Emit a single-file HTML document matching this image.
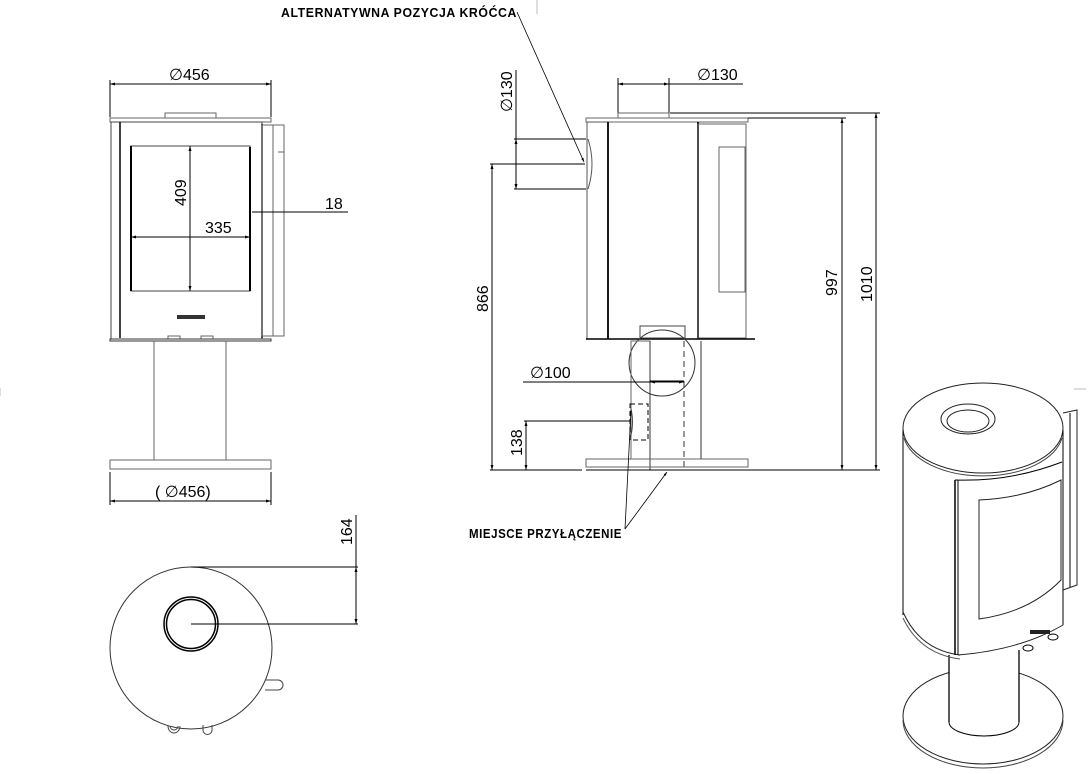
<!DOCTYPE html>
<html><head><meta charset="utf-8"><style>
html,body{margin:0;padding:0;background:#fff;}
svg{display:block;}
text{font-family:"Liberation Sans",sans-serif;fill:#000;}
.b{font-weight:bold;font-size:12.5px;letter-spacing:0.6px;}
.d{font-size:16px;}
</style></head><body>
<svg width="1088" height="774" viewBox="0 0 1088 774" xmlns="http://www.w3.org/2000/svg">
<defs>
<marker id="a" viewBox="0 0 10 10" refX="10" refY="5" markerWidth="7" markerHeight="5" orient="auto-start-reverse"><path d="M0,2 L10,5 L0,8z" fill="#000"/></marker>
</defs>
<g fill="none" stroke="#000" stroke-width="1">
<line x1="537" y1="0" x2="537" y2="14" stroke="#bbb"/>
<line x1="0" y1="388" x2="0" y2="396" stroke="#bbb"/>
<line x1="1074" y1="389" x2="1086" y2="389" stroke="#bbb"/>

<!-- FRONT VIEW -->
<line x1="110" y1="80" x2="110" y2="117"/><line x1="271" y1="80" x2="271" y2="117"/>
<line x1="110" y1="84" x2="271" y2="84" marker-start="url(#a)" marker-end="url(#a)"/>
<rect x="165" y="113" width="51" height="5" stroke="#666"/>
<rect x="110" y="118" width="161" height="4" stroke="#666"/>
<rect x="111" y="122" width="151" height="217" stroke="#444"/>
<line x1="120" y1="122" x2="120" y2="338" stroke-width="1.5"/>
<line x1="262" y1="124" x2="262" y2="338" stroke-width="1.5"/>
<rect x="262" y="125" width="22" height="211" stroke="#666"/>
<line x1="273" y1="125" x2="273" y2="336" stroke="#666"/>
<line x1="278" y1="152" x2="284" y2="152" stroke="#666"/>
<rect x="131" y="146" width="119" height="145" stroke="#444"/>
<line x1="131" y1="146" x2="131" y2="291" stroke-width="2"/>
<line x1="250" y1="147" x2="250" y2="291" stroke-width="2"/>
<line x1="190" y1="146" x2="190" y2="291" marker-start="url(#a)" marker-end="url(#a)"/>
<line x1="131" y1="237" x2="250" y2="237" marker-start="url(#a)" marker-end="url(#a)"/>
<line x1="252" y1="212" x2="348" y2="212"/>
<rect x="177" y="315" width="28" height="4" fill="#333" stroke="none"/>
<rect x="168" y="336" width="12" height="3" stroke="#666"/><rect x="201" y="336" width="12" height="3" stroke="#666"/>
<rect x="110" y="339" width="161" height="2" stroke="#333"/>
<line x1="154" y1="341" x2="154" y2="460" stroke="#666"/><line x1="226" y1="341" x2="226" y2="460" stroke="#666"/>
<rect x="110" y="460" width="161" height="9" stroke="#666"/>
<line x1="110" y1="472" x2="110" y2="505"/><line x1="271" y1="472" x2="271" y2="505"/>
<line x1="110" y1="501" x2="271" y2="501" marker-start="url(#a)" marker-end="url(#a)"/>

<!-- TOP VIEW -->
<circle cx="191" cy="648" r="81" stroke="#333"/>
<circle cx="191" cy="624" r="27" stroke-width="1.5"/>
<circle cx="191" cy="624" r="24.5" stroke-width="1.5"/>
<line x1="191" y1="624" x2="358" y2="624"/>
<line x1="191" y1="567" x2="358" y2="567"/>
<line x1="356" y1="515" x2="356" y2="567" />
<line x1="356" y1="567" x2="356" y2="624" marker-start="url(#a)" marker-end="url(#a)"/>
<path d="M265,680 h13 a5,5 0 0 1 0,10 h-13" stroke="#444"/>
<path d="M170,726 a4,4 0 0 0 8,0" stroke="#444"/><path d="M168,726 a6,7 0 0 0 12,0" stroke="#444"/>
<path d="M203,725 v5 a4,4 0 0 0 9,0 v-5" stroke="#444"/>

<!-- SIDE VIEW -->
<line x1="618" y1="78" x2="618" y2="113"/><line x1="669" y1="78" x2="669" y2="113"/>
<line x1="618" y1="84" x2="669" y2="84" marker-start="url(#a)" marker-end="url(#a)"/>
<line x1="669" y1="84" x2="743" y2="84"/>
<rect x="618" y="113" width="51" height="5" stroke="#666"/>
<rect x="586" y="118" width="162" height="4" stroke="#666"/>
<rect x="587" y="122" width="21" height="217" stroke="#555"/>
<line x1="608" y1="122" x2="608" y2="339" stroke-width="1.8"/>
<line x1="698" y1="122" x2="698" y2="339" stroke-width="1.8"/>
<rect x="698" y="124" width="48" height="214" stroke="#666"/>
<rect x="719" y="147" width="26" height="145" stroke="#666"/>
<path d="M588,139 q8,25 0,50" stroke="#555"/>
<line x1="586" y1="339" x2="755" y2="339" stroke-width="1.5"/>
<circle cx="662" cy="363" r="33" stroke="#333"/>
<rect x="640" y="326" width="45" height="12" stroke="#444"/>
<rect x="631" y="341" width="19" height="118" stroke="#666"/>
<line x1="650" y1="341" x2="650" y2="470" stroke="#333"/>
<line x1="684" y1="341" x2="684" y2="470" stroke="#333" stroke-dasharray="6,4"/>
<line x1="701" y1="341" x2="701" y2="459" stroke="#333"/>
<line x1="650" y1="381" x2="684" y2="381"/>
<rect x="630" y="404" width="18" height="36" stroke-dasharray="5,3"/>
<path d="M630,405 q5,17 0,34" stroke="#444"/>
<rect x="586" y="459" width="162" height="8" stroke="#666"/>
<line x1="490" y1="470" x2="582" y2="470"/><line x1="586" y1="470" x2="880" y2="470"/>
<line x1="670" y1="113" x2="880" y2="113"/>
<line x1="748" y1="118" x2="846" y2="118"/>
<line x1="842" y1="118" x2="842" y2="470" marker-start="url(#a)" marker-end="url(#a)"/>
<line x1="876" y1="113" x2="876" y2="470" marker-start="url(#a)" marker-end="url(#a)"/>
<line x1="490" y1="164" x2="585" y2="164"/>
<line x1="492" y1="164" x2="492" y2="470" marker-start="url(#a)" marker-end="url(#a)"/>
<line x1="514" y1="139" x2="586" y2="139"/><line x1="514" y1="189" x2="586" y2="189"/>
<line x1="516" y1="70" x2="516" y2="139"/>
<line x1="516" y1="139" x2="516" y2="189" marker-start="url(#a)" marker-end="url(#a)"/>
<line x1="523" y1="382" x2="684" y2="382"/>
<line x1="650" y1="382" x2="684" y2="382" marker-start="url(#a)" marker-end="url(#a)"/>
<line x1="524" y1="421" x2="630" y2="421"/>
<line x1="526" y1="421" x2="526" y2="470" marker-start="url(#a)" marker-end="url(#a)"/>
<line x1="517" y1="12" x2="584" y2="162" stroke-width="0.8" marker-end="url(#a)"/>
<line x1="625" y1="529" x2="667" y2="472" stroke-width="0.8" marker-end="url(#a)"/>
<line x1="625" y1="529" x2="631" y2="410" stroke-width="0.8"/>

<!-- ISO VIEW -->
<ellipse cx="983" cy="716" rx="80" ry="48" stroke="#222"/>
<path d="M903,720 A80,48 0 0 0 1063,720" stroke="#444"/>
<rect x="949" y="650" width="70" height="72" fill="#fff" stroke="none"/>
<line x1="949" y1="655" x2="949" y2="722" stroke-width="1.3"/>
<line x1="1019" y1="650" x2="1019" y2="722" stroke-width="1.3"/>
<path d="M949,722 A35,14 0 0 0 1019,722" />
<ellipse cx="983" cy="428" rx="80" ry="45" stroke="#222"/>
<path d="M904,438 A80,45 0 0 0 1062,438" stroke="#444"/>
<ellipse cx="968" cy="419" rx="27" ry="15" stroke="#222"/>
<ellipse cx="968" cy="421" rx="21" ry="11" stroke="#222"/>
<line x1="903" y1="430" x2="903" y2="615"/>
<line x1="1063" y1="430" x2="1063" y2="625"/>
<path d="M903,612 Q920,650 960,655" stroke="#222"/>
<path d="M903,618 Q920,654 960,659" stroke="#555"/>
<path d="M955,480 Q1010,482 1062,462" />
<line x1="955" y1="480" x2="955" y2="655" stroke-width="1.5"/>
<line x1="958" y1="480" x2="958" y2="655"/>
<path d="M979,500 Q1025,498 1061,480 L1061,580 Q1030,612 979,619 Z" stroke="#222"/>
<path d="M958,655 Q1020,650 1063,625" stroke="#222"/>
<rect x="1030" y="630" width="20" height="4" fill="#222" stroke="none"/>
<ellipse cx="1053" cy="637" rx="5" ry="3"/><ellipse cx="1028" cy="648" rx="5" ry="3"/>
<path d="M1063,413 L1077,410 L1077,585 L1063,590" stroke="#222"/>
<line x1="1070" y1="413" x2="1070" y2="587"/>
</g>

<text class="b" x="281" y="17" textLength="236" lengthAdjust="spacingAndGlyphs">ALTERNATYWNA POZYCJA KRÓĆCA</text>
<text class="b" x="469" y="538" textLength="153" lengthAdjust="spacingAndGlyphs">MIEJSCE PRZYŁĄCZENIE</text>
<text class="d" x="169" y="80">∅456</text>
<text class="d" x="155" y="497">( ∅456)</text>
<text class="d" x="325" y="209">18</text>
<text class="d" x="205" y="233">335</text>
<text class="d" transform="translate(186,206) rotate(-90)">409</text>
<text class="d" transform="translate(352,545) rotate(-90)">164</text>
<text class="d" x="697" y="80">∅130</text>
<text class="d" transform="translate(512,112) rotate(-90)">∅130</text>
<text class="d" transform="translate(488,312) rotate(-90)">866</text>
<text class="d" transform="translate(837,296) rotate(-90)">997</text>
<text class="d" transform="translate(872,302) rotate(-90)">1010</text>
<text class="d" x="530" y="378">∅100</text>
<text class="d" transform="translate(522,456) rotate(-90)">138</text>
</svg>
</body></html>
